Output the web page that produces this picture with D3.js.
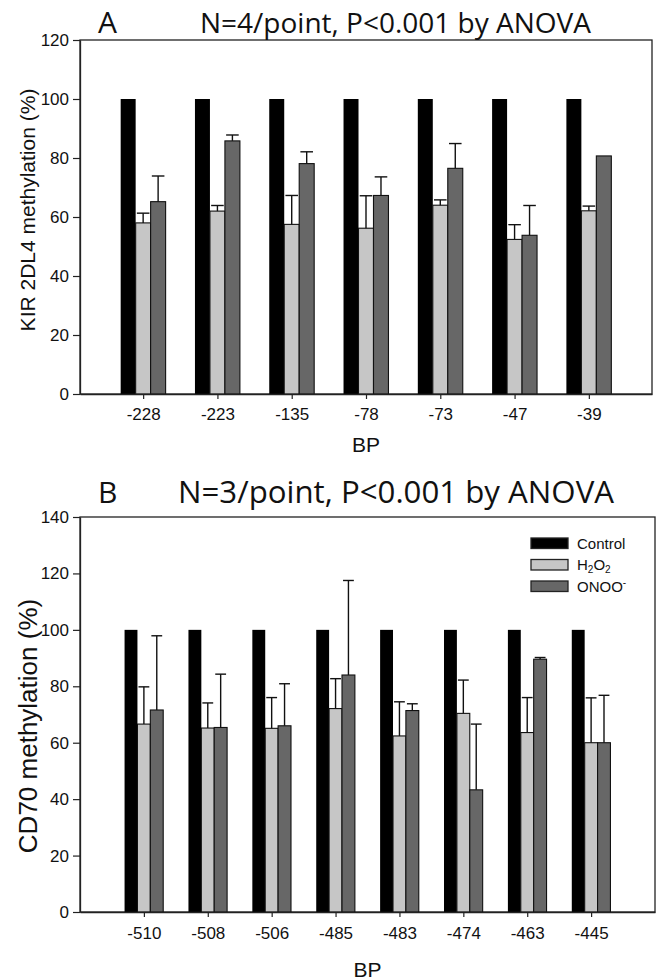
<!DOCTYPE html>
<html>
<head>
<meta charset="utf-8">
<script src="https://cdn.jsdelivr.net/npm/d3@7/dist/d3.min.js"></script>
<style>
  html, body { margin: 0; padding: 0; background: #fff; }
  svg { display: block; }
  .tick text { font-family: "Liberation Sans", Arial, sans-serif; fill: #111; }
</style>
</head>
<body>
<svg id="chart" width="663" height="980"></svg>
<script>
// ---------- Data ----------
const seriesNames = ["Control", "H2O2", "ONOO-"];

// Panel A: KIR 2DL4
const catsA = ["-228", "-223", "-135", "-78", "-73", "-47", "-39"];
const controlA = [100, 100, 100, 100, 100, 100, 100];
const h2o2A = [58, 62, 57.5, 56.2, 64, 52.4, 62.1];
const h2o2ErrA = [3.3, 1.9, 9.8, 11, 1.8, 5, 1.6];
const onooA = [65.2, 85.8, 78.1, 67.3, 76.5, 53.8, 80.7];
const onooErrA = [8.7, 2, 4, 6.3, 8.4, 10.1, 0];
const yTicksA = [0, 20, 40, 60, 80, 100, 120];

// Panel B: CD70
const catsB = ["-510", "-508", "-506", "-485", "-483", "-474", "-463", "-445"];
const controlB = [100, 100, 100, 100, 100, 100, 100, 100];
const h2o2B = [66.6, 65.2, 65.1, 72.1, 62.4, 70.4, 63.6, 60.0];
const h2o2ErrB = [13.2, 8.9, 10.9, 10.6, 12.1, 11.8, 12.4, 15.9];
const onooB = [71.6, 65.4, 66.0, 84.0, 71.4, 43.3, 89.6, 60.0];
const onooErrB = [26.3, 18.9, 14.9, 33.5, 2.4, 23.3, 0.6, 16.8];
const yTicksB = [0, 20, 40, 60, 80, 100, 120, 140];

// ---------- Styles ----------
const colors = ["#000000", "#c6c6c6", "#676767"];
const sans = '"Liberation Sans", Arial, sans-serif';
const titleFont = '"Open Sans", "Noto Sans", sans-serif';

const svg = d3.select("#chart");

function drawPanel(cfg) {
  const g = svg.append("g");
  const x = d3.scalePoint().domain(cfg.cats).range([cfg.left, cfg.right]).padding(cfg.pad);
  const y = d3.scaleLinear().domain([0, cfg.ymax]).range([cfg.bottom, cfg.top]);
  const step = x.step();
  const groupW = step * 0.605;
  const sub = d3.scaleBand().domain([0, 1, 2]).range([-groupW / 2, groupW / 2]);
  const bw = sub.bandwidth();

  const series = [cfg.control, cfg.h2o2, cfg.onoo];
  const errs = [null, cfg.h2o2Err, cfg.onooErr];

  // frame
  g.append("rect")
    .attr("x", cfg.left).attr("y", cfg.top)
    .attr("width", cfg.right - cfg.left).attr("height", cfg.bottom - cfg.top)
    .attr("fill", "none").attr("stroke", "#222").attr("stroke-width", 1.3);

  // bars
  series.forEach((vals, si) => {
    g.append("g").selectAll("rect").data(vals).join("rect")
      .attr("x", (d, i) => x(cfg.cats[i]) + sub(si))
      .attr("y", d => y(d))
      .attr("width", bw)
      .attr("height", d => y(0) - y(d))
      .attr("fill", colors[si])
      .attr("stroke", "#111")
      .attr("stroke-width", si === 0 ? 0 : 1.1);
  });

  // error bars (upper only)
  series.forEach((vals, si) => {
    if (!errs[si]) return;
    const eg = g.append("g").attr("stroke", "#111").attr("stroke-width", 1.4);
    vals.forEach((v, i) => {
      const e = errs[si][i];
      if (!e) return;
      const cx = x(cfg.cats[i]) + sub(si) + bw / 2;
      eg.append("line").attr("x1", cx).attr("x2", cx).attr("y1", y(v)).attr("y2", y(v + e));
      eg.append("line").attr("x1", cx - bw * 0.42).attr("x2", cx + bw * 0.42)
        .attr("y1", y(v + e)).attr("y2", y(v + e));
    });
  });

  // y axis
  const ya = g.append("g").attr("transform", `translate(${cfg.left},0)`)
    .call(d3.axisLeft(y).tickValues(cfg.yTicks).tickSize(7).tickPadding(4).tickSizeOuter(0));
  ya.select(".domain").attr("stroke", "#222").attr("stroke-width", 1.3);
  ya.selectAll(".tick line").attr("stroke", "#222").attr("stroke-width", 1.2);
  ya.selectAll(".tick text").attr("font-size", 17);

  // x axis
  const xa = g.append("g").attr("transform", `translate(0,${cfg.bottom})`)
    .call(d3.axisBottom(x).tickSize(5).tickPadding(cfg.xPad).tickSizeOuter(0));
  xa.select(".domain").attr("stroke", "#222").attr("stroke-width", 1.3);
  xa.selectAll(".tick line").attr("stroke", "#222").attr("stroke-width", 1.2);
  xa.selectAll(".tick text").attr("font-size", 17);

  // x label
  g.append("text").attr("x", (cfg.left + cfg.right) / 2).attr("y", cfg.xLabelY)
    .attr("text-anchor", "middle").attr("font-family", sans).attr("font-size", cfg.xLabelSize)
    .attr("fill", "#111").text("BP");

  // y label
  g.append("text")
    .attr("transform", `translate(${cfg.yLabelX},${cfg.yLabelY}) rotate(-90)`)
    .attr("text-anchor", "middle").attr("font-family", sans).attr("font-size", cfg.yLabelSize)
    .attr("fill", "#111").text(cfg.yLabel);

  // panel letter & title
  g.append("text").attr("x", 98).attr("y", cfg.titleY)
    .attr("font-family", titleFont).attr("font-size", 30).attr("fill", "#111").text(cfg.letter);
  g.append("text").attr("x", cfg.titleX).attr("y", cfg.titleY)
    .attr("font-family", titleFont).attr("font-size", cfg.titleSize).attr("fill", "#111")
    .attr("textLength", cfg.titleLen).attr("lengthAdjust", "spacingAndGlyphs")
    .text(cfg.title);

  return { x, y };
}

drawPanel({
  cats: catsA, control: controlA, h2o2: h2o2A, h2o2Err: h2o2ErrA, onoo: onooA, onooErr: onooErrA,
  yTicks: yTicksA, ymax: 120,
  left: 80, right: 652, top: 40, bottom: 394, pad: 0.85, xPad: 9,
  xLabelY: 452, xLabelSize: 21,
  yLabel: "KIR 2DL4 methylation (%)", yLabelX: 35, yLabelY: 210, yLabelSize: 21,
  letter: "A", title: "N=4/point, P<0.001 by ANOVA", titleX: 200, titleY: 33, titleSize: 28, titleLen: 391
});

drawPanel({
  cats: catsB, control: controlB, h2o2: h2o2B, h2o2Err: h2o2ErrB, onoo: onooB, onooErr: onooErrB,
  yTicks: yTicksB, ymax: 140,
  left: 80, right: 655, top: 517, bottom: 912, pad: 1.0, xPad: 10,
  xLabelY: 977, xLabelSize: 21,
  yLabel: "CD70 methylation (%)", yLabelX: 37, yLabelY: 726, yLabelSize: 26,
  letter: "B", title: "N=3/point, P<0.001 by ANOVA", titleX: 178, titleY: 503, titleSize: 31, titleLen: 436
});

// legend (panel B)
const legend = svg.append("g").attr("transform", "translate(531,538)");
const legRows = legend.selectAll("g").data(seriesNames).join("g")
  .attr("transform", (d, i) => `translate(0,${i * 21.5})`);
legRows.append("rect").attr("width", 37).attr("height", 10.5)
  .attr("fill", (d, i) => colors[i]).attr("stroke", "#222").attr("stroke-width", 1.3);
const lt = legRows.append("text").attr("x", 46).attr("y", 10.5)
  .attr("font-family", sans).attr("font-size", 15).attr("fill", "#111");
lt.each(function(d) {
  const t = d3.select(this);
  if (d === "H2O2") {
    t.append("tspan").text("H");
    t.append("tspan").attr("font-size", 10).attr("dy", 3).text("2");
    t.append("tspan").attr("dy", -3).text("O");
    t.append("tspan").attr("font-size", 10).attr("dy", 3).text("2");
  } else if (d === "ONOO-") {
    t.append("tspan").text("ONOO");
    t.append("tspan").attr("font-size", 10).attr("dy", -6).text("-");
  } else {
    t.text(d);
  }
});
</script>
</body>
</html>
